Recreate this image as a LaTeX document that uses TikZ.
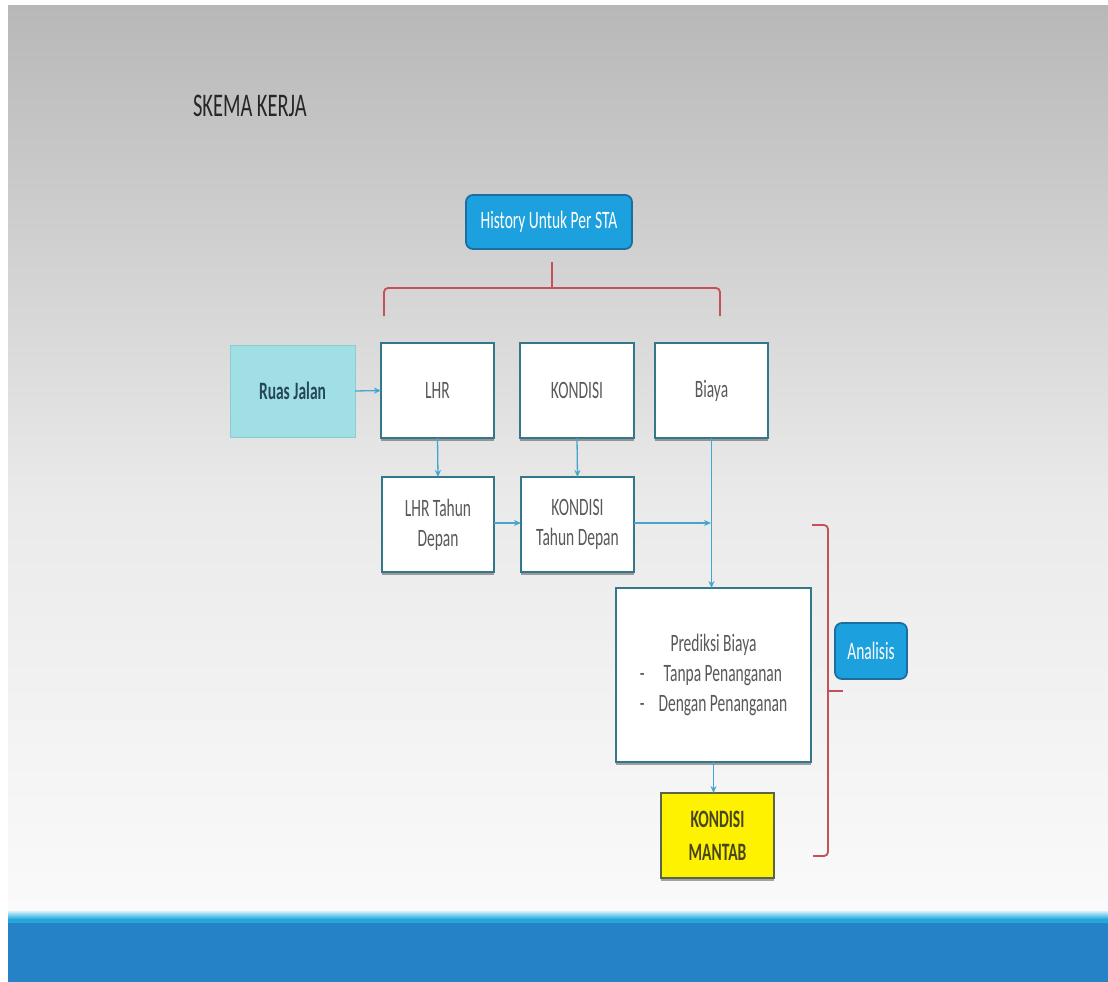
\documentclass[tikz,border=0pt]{standalone}
\usepackage{fontspec}
\setmainfont[FakeStretch=0.62]{Carlito}
\usetikzlibrary{arrows.meta,shadows}
\definecolor{bgtop}{RGB}{184,184,184}
\definecolor{bgmid}{RGB}{234,234,234}
\definecolor{bgbot}{RGB}{250,250,250}
\definecolor{banddark}{RGB}{38,130,198}
\definecolor{bandlight}{RGB}{36,168,220}
\definecolor{bandpale}{RGB}{200,238,248}
\definecolor{boxborder}{RGB}{52,118,138}
\definecolor{boxtext}{RGB}{89,89,89}
\definecolor{linkblue}{RGB}{70,165,205}
\definecolor{bracketred}{RGB}{196,80,90}
\definecolor{pillfill}{RGB}{29,161,222}
\definecolor{pillborder}{RGB}{28,110,160}
\definecolor{ruasfill}{RGB}{160,224,229}
\definecolor{ruasborder}{RGB}{140,205,212}
\definecolor{ruastext}{RGB}{40,70,90}
\definecolor{mantabtext}{RGB}{70,70,30}
\definecolor{mantabborder}{RGB}{90,100,70}
\begin{document}
\begin{tikzpicture}[x=1pt,y=-1pt,
  every node/.style={inner sep=0pt,outer sep=0pt,font=\fontsize{25}{30}\selectfont},
  wbox/.style={draw=boxborder,line width=2.5pt,fill=white,text=boxtext,align=center,
    drop shadow={shadow xshift=0pt,shadow yshift=-2.5pt,opacity=.35,fill=black}},
  pill/.style={draw=pillborder,line width=1.8pt,fill=pillfill,rounded corners=7pt,text=white,align=center},
  link/.style={draw=linkblue,line width=1.3pt,-{Stealth[length=7pt,width=6pt]}},
  brk/.style={draw=bracketred,line width=1.8pt,rounded corners=4pt}]
\useasboundingbox (0,0) rectangle (1108,982);
\fill[white] (0,0) rectangle (1108,982);
\shade[top color=bgtop,bottom color=bgmid] (8,6) rectangle (1108,500);
\shade[top color=bgmid,bottom color=bgbot] (8,499.5) rectangle (1108,912);
\shade[top color=bandpale,bottom color=bandlight] (8,911.5) rectangle (1108,919);
\fill[bandlight] (8,918.5) rectangle (1108,923);
\fill[banddark] (8,922.5) rectangle (1108,982);

\node[anchor=west,text=black!85,font=\fontsize{33}{38}\selectfont] (title) at (193,106) {SKEMA KERJA};

\node[pill,minimum width=166pt,minimum height=54pt] (history) at (549,222) {History Untuk Per STA};

\node[draw=ruasborder,line width=1pt,fill=ruasfill,text=ruastext,font=\fontsize{25}{30}\selectfont\bfseries,
  minimum width=125pt,minimum height=92pt] (ruas) at (292.5,391) {Ruas Jalan};
\node[wbox,minimum width=113pt,minimum height=95pt] (lhr) at (437.5,390.5) {LHR};
\node[wbox,minimum width=114pt,minimum height=95pt] (kondisi) at (577,390.5) {KONDISI};
\node[wbox,minimum width=113pt,minimum height=95pt] (biaya) at (711.5,390.5) {Biaya};

\node[wbox,minimum width=112pt,minimum height=95pt] (lhrtd) at (438,524.5) {LHR Tahun\\Depan};
\node[wbox,minimum width=113pt,minimum height=95pt] (kontd) at (577.5,524.5) {KONDISI\\Tahun Depan};

\node[wbox,minimum width=195pt,minimum height=174pt] (prediksi) at (713.5,675)
  {\begin{tabular}{@{}l@{\hspace{14pt}}c@{}}\multicolumn{2}{c}{Prediksi Biaya}\\-&Tanpa Penanganan\\-&Dengan Penanganan\end{tabular}};

\node[wbox,draw=mantabborder,fill=yellow,text=mantabtext,font=\fontsize{25}{33}\selectfont\bfseries,
  minimum width=113pt,minimum height=85pt] (mantab) at (717.5,835.5) {KONDISI\\MANTAB};

\node[pill,minimum width=72pt,minimum height=56pt] (analisis) at (871,651) {Analisis};

% brackets
\draw[brk] (384,316) -- (384,288) -- (720,288) -- (720,316);
\draw[brk] (552,288) -- (552,262);
\draw[brk] (812,525) -- (828,525) -- (828,856) -- (813,856);
\draw[brk] (828,691) -- (843,691);

% connectors
\coordinate (junc) at (711,523);
\draw[link] (ruas.east) -- (lhr.west);
\draw[link] (lhr.south) -- (lhrtd.north);
\draw[link] (kondisi.south) -- (kontd.north);
\draw[link] (lhrtd.east |- 0,523) -- (kontd.west |- 0,523);
\draw[link] (kontd.east |- junc) -- (junc);
\draw[link] (biaya.south) -- (biaya.south |- prediksi.north);
\draw[link] (prediksi.south) -- (prediksi.south |- mantab.north);
\end{tikzpicture}
\end{document}
